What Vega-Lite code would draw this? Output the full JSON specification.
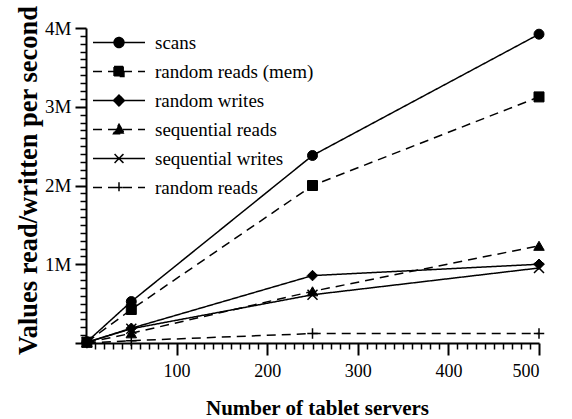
{
  "$schema": "https://vega.github.io/schema/vega-lite/v6.json",
  "width": 453,
  "height": 315,
  "autosize": {"type": "none"},
  "padding": {"left": 86, "top": 28, "right": 33, "bottom": 76},
  "background": "white",
  "config": {
    "view": {"stroke": null},
    "axis": {"grid": false, "domainColor": "black", "tickColor": "black", "labelColor": "black", "titleColor": "black", "labelFont": "Liberation Serif", "titleFont": "Liberation Serif"}
  },
  "data": {
    "values": [
      {"series": "scans", "servers": 1, "value": 15385},
      {"series": "scans", "servers": 50, "value": 526300},
      {"series": "scans", "servers": 250, "value": 2381000},
      {"series": "scans", "servers": 500, "value": 3921500},
      {"series": "random reads (mem)", "servers": 1, "value": 10811},
      {"series": "random reads (mem)", "servers": 50, "value": 425550},
      {"series": "random reads (mem)", "servers": 250, "value": 2000000},
      {"series": "random reads (mem)", "servers": 500, "value": 3125000},
      {"series": "random writes", "servers": 1, "value": 8850},
      {"series": "random writes", "servers": 50, "value": 187250},
      {"series": "random writes", "servers": 250, "value": 856250},
      {"series": "random writes", "servers": 500, "value": 1000000},
      {"series": "sequential reads", "servers": 1, "value": 4425},
      {"series": "sequential reads", "servers": 50, "value": 123150},
      {"series": "sequential reads", "servers": 250, "value": 656250},
      {"series": "sequential reads", "servers": 500, "value": 1234500},
      {"series": "sequential writes", "servers": 1, "value": 8547},
      {"series": "sequential writes", "servers": 50, "value": 181150},
      {"series": "sequential writes", "servers": 250, "value": 612750},
      {"series": "sequential writes", "servers": 500, "value": 952500},
      {"series": "random reads", "servers": 1, "value": 1212},
      {"series": "random reads", "servers": 50, "value": 29650},
      {"series": "random reads", "servers": 250, "value": 119750},
      {"series": "random reads", "servers": 500, "value": 120500}
    ]
  },
  "layer": [
    {
      "mark": {"type": "line", "color": "black", "strokeWidth": 1.5},
      "encoding": {
        "x": {
          "field": "servers", "type": "quantitative",
          "scale": {"domain": [0, 500], "nice": false, "zero": false},
          "axis": {
            "orient": "bottom",
            "values": [100, 200, 300, 400, 500],
            "title": "Number of tablet servers",
            "tickSize": 12, "tickWidth": 2, "domainWidth": 2,
            "labelFontSize": 18, "labelPadding": 7,
            "titleFontSize": 21, "titleFontWeight": "bold",
            "titleBaseline": "alphabetic", "titleY": 71, "titleX": 231
          }
        },
        "y": {
          "field": "value", "type": "quantitative",
          "scale": {"domain": [0, 4000000], "nice": false},
          "axis": {
            "orient": "left",
            "values": [0, 1000000, 2000000, 3000000, 4000000],
            "labelExpr": "datum.value == 0 ? '' : (datum.value / 1000000) + 'M'",
            "title": "Values read/written per second",
            "tickSize": 11, "tickWidth": 2, "domainWidth": 2,
            "labelFontSize": 19, "labelPadding": 4,
            "titleFontSize": 26.5, "titleFontWeight": "bold",
            "titleBaseline": "alphabetic", "titleX": -50, "titleY": 152
          }
        },
        "strokeDash": {
          "field": "series", "type": "nominal",
          "scale": {
            "domain": ["scans", "random reads (mem)", "random writes", "sequential reads", "sequential writes", "random reads"],
            "range": [[1, 0], [9, 6], [1, 0], [9, 6], [1, 0], [9, 6]]
          },
          "legend": {
            "title": null,
            "orient": "none",
            "legendX": 6,
            "legendY": 0,
            "direction": "vertical",
            "padding": 0,
            "rowPadding": 0,
            "clipHeight": 29,
            "symbolSize": 2704,
            "symbolStrokeWidth": 1.5,
            "symbolStrokeColor": "black",
            "labelFont": "Liberation Serif",
            "labelFontSize": 19,
            "labelColor": "black",
            "labelOffset": 9,
            "labelLimit": 300,
            "encode": {
              "symbols": {
                "update": {
                  "shape": {"signal": "['M-0.19,0A0.19,0.19,0,1,0,0.19,0A0.19,0.19,0,1,0,-0.19,0Z M-1,0H1', 'M-0.19,-0.19H0.19V0.19H-0.19Z M-1,0H1', 'M-0.21,0L0,-0.21L0.21,0L0,0.21Z M-1,0H1', 'M0,-0.2L0.21,0.16L-0.21,0.16Z M-1,0H1', 'M-0.17,-0.17L0.17,0.17M-0.17,0.17L0.17,-0.17 M-1,0H1', 'M-0.2,0H0.2M0,-0.2V0.2 M-1,0H1'][indexof(['scans','random reads (mem)','random writes','sequential reads','sequential writes','random reads'], datum.value)]"},
                  "fill": {"value": "black"},
                  "stroke": {"value": "black"},
                  "strokeWidth": {"value": 1.5},
                  "opacity": {"value": 1}
                }
              }
            }
          }
        }
      }
    },
    {
      "transform": [{"filter": "datum.series == 'scans'"}],
      "mark": {"type": "point", "shape": "circle", "filled": true, "fill": "black", "stroke": "black", "strokeWidth": 1, "size": 100, "opacity": 1},
      "encoding": {
        "x": {
          "field": "servers", "type": "quantitative",
          "axis": {
            "orient": "bottom",
            "values": [10, 20, 30, 40, 50, 60, 70, 80, 90, 110, 120, 130, 140, 150, 160, 170, 180, 190, 210, 220, 230, 240, 250, 260, 270, 280, 290, 310, 320, 330, 340, 350, 360, 370, 380, 390, 410, 420, 430, 440, 450, 460, 470, 480, 490],
            "labels": false, "domain": false, "title": null,
            "tickSize": 6, "tickWidth": 1.5
          }
        },
        "y": {
          "field": "value", "type": "quantitative",
          "axis": {
            "orient": "left",
            "values": [100000, 200000, 300000, 400000, 500000, 600000, 700000, 800000, 900000, 1100000, 1200000, 1300000, 1400000, 1500000, 1600000, 1700000, 1800000, 1900000, 2100000, 2200000, 2300000, 2400000, 2500000, 2600000, 2700000, 2800000, 2900000, 3100000, 3200000, 3300000, 3400000, 3500000, 3600000, 3700000, 3800000, 3900000],
            "labels": false, "domain": false, "title": null,
            "tickSize": 6, "tickWidth": 1.5
          }
        }
      }
    },
    {
      "transform": [{"filter": "datum.series == 'random reads (mem)'"}],
      "mark": {"type": "point", "shape": "square", "filled": true, "fill": "black", "stroke": "black", "strokeWidth": 1, "size": 100, "opacity": 1},
      "encoding": {
        "x": {"field": "servers", "type": "quantitative", "axis": null},
        "y": {"field": "value", "type": "quantitative", "axis": null}
      }
    },
    {
      "transform": [{"filter": "datum.series == 'random writes'"}],
      "mark": {"type": "point", "shape": "diamond", "filled": true, "fill": "black", "stroke": "black", "strokeWidth": 1, "size": 110, "opacity": 1},
      "encoding": {
        "x": {"field": "servers", "type": "quantitative", "axis": null},
        "y": {"field": "value", "type": "quantitative", "axis": null}
      }
    },
    {
      "transform": [{"filter": "datum.series == 'sequential reads'"}],
      "mark": {"type": "point", "shape": "triangle-up", "filled": true, "fill": "black", "stroke": "black", "strokeWidth": 1, "size": 110, "opacity": 1},
      "encoding": {
        "x": {"field": "servers", "type": "quantitative", "axis": null},
        "y": {"field": "value", "type": "quantitative", "axis": null}
      }
    },
    {
      "transform": [{"filter": "datum.series == 'sequential writes'"}],
      "mark": {"type": "point", "shape": "M-1,-1L1,1M-1,1L1,-1", "filled": false, "stroke": "black", "strokeWidth": 1.5, "size": 100, "opacity": 1},
      "encoding": {
        "x": {"field": "servers", "type": "quantitative", "axis": null},
        "y": {"field": "value", "type": "quantitative", "axis": null}
      }
    },
    {
      "transform": [{"filter": "datum.series == 'random reads'"}],
      "mark": {"type": "point", "shape": "M-1,0H1M0,-1V1", "filled": false, "stroke": "black", "strokeWidth": 1.5, "size": 110, "opacity": 1},
      "encoding": {
        "x": {"field": "servers", "type": "quantitative", "axis": null},
        "y": {"field": "value", "type": "quantitative", "axis": null}
      }
    }
  ],
  "resolve": {"axis": {"x": "independent", "y": "independent"}}
}
